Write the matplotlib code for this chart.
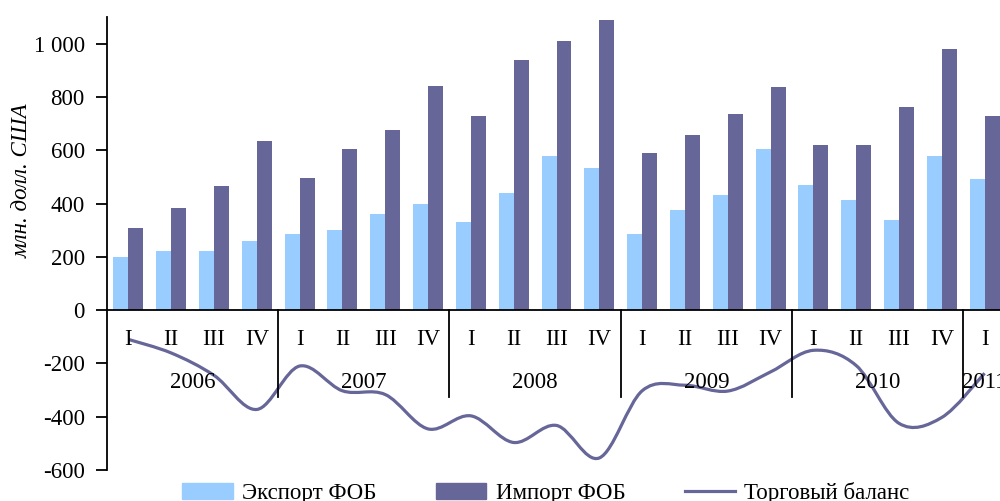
import numpy as np
import matplotlib
matplotlib.use("Agg")
import matplotlib.pyplot as plt
from matplotlib.path import Path
from matplotlib.patches import PathPatch, Patch
from matplotlib.lines import Line2D

plt.rcParams['font.family'] = ['Liberation Serif', 'DejaVu Serif']

# data (млн. долл. США)
quarters = ['I', 'II', 'III', 'IV'] * 5 + ['I']
years = ['2006', '2007', '2008', '2009', '2010', '2011']
export_fob = [200, 222, 222, 260,
              287, 302, 360, 397,
              330, 440, 577, 533,
              287, 375, 433, 606,
              469, 412, 339, 577,
              491]
import_fob = [310, 383, 467, 633,
              497, 605, 677, 843,
              727, 937, 1010, 1088,
              590, 657, 737, 838,
              620, 620, 764, 980,
              728]
trade_balance = [-110, -161, -245, -373,
                 -210, -303, -317, -446,
                 -397, -497, -433, -555,
                 -303, -282, -304, -232,
                 -151, -208, -425, -403,
                 -237]
yticks = [-600, -400, -200, 0, 200, 400, 600, 800, 1000]
ytick_labels = ['-600', '-400', '-200', '0', '200', '400', '600', '800', '1 000']

c_exp = '#99ccff'
c_imp = '#666699'

fig = plt.figure(figsize=(10, 5.01), dpi=100)
ax = fig.add_axes([0.107, 0.062, 0.899, 0.904])

x = np.arange(len(quarters))
w = 0.35
ax.bar(x - w / 2, export_fob, w, color=c_exp, zorder=2)
ax.bar(x + w / 2, import_fob, w, color=c_imp, zorder=2)

# smoothed line (catmull-rom -> bezier, like excel)
pts = np.column_stack([x, trade_balance]).astype(float)
verts = [pts[0]]
codes = [Path.MOVETO]
n = len(pts)
for i in range(n - 1):
    p0 = pts[i - 1] if i > 0 else pts[i]
    p1 = pts[i]
    p2 = pts[i + 1]
    p3 = pts[i + 2] if i + 2 < n else pts[i + 1]
    c1 = p1 + (p2 - p0) / 6
    c2 = p2 - (p3 - p1) / 6
    verts += [c1, c2, p2]
    codes += [Path.CURVE4] * 3
ax.add_patch(PathPatch(Path(verts, codes), fill=False, edgecolor=c_imp, lw=2.3, zorder=3))

ax.set_xlim(-0.5, len(quarters) - 0.5)
ax.set_ylim(-600, 1100)
ax.axhline(0, color='black', lw=1.3, zorder=4)

for s in ['top', 'right', 'bottom']:
    ax.spines[s].set_visible(False)
ax.spines['left'].set_linewidth(1.3)
ax.set_xticks([])
ax.set_yticks(yticks)
ax.set_yticklabels(ytick_labels, fontsize=16.5)
ax.tick_params(axis='y', length=8, width=1.3, pad=8)

# category labels under zero line
for i, q in enumerate(quarters):
    ax.text(i, -112, q, ha='center', va='center', fontsize=16.5, zorder=5)
for k, yr in enumerate(years):
    start = k * 4 - 0.5
    end = min(start + 4, len(quarters) - 0.5)
    ax.text((start + end) / 2, -272, yr, ha='center', va='center', fontsize=16.5, zorder=5)
    if k > 0:
        ax.plot([start, start], [0, -325], color='black', lw=1.3, zorder=4)

fig.text(0.022, 1 - 181 / 501, 'млн. долл. США', rotation=90, style='italic',
         fontsize=16.5, ha='center', va='center')

handles = [Patch(color=c_exp), Patch(color=c_imp), Line2D([], [], color=c_imp, lw=2.3)]
fig.legend(handles, ['Экспорт ФОБ', 'Импорт ФОБ', 'Торговый баланс'],
           loc='center', bbox_to_anchor=(0.546, 0.016), ncol=3, frameon=False,
           fontsize=16.5, handlelength=2.2, handletextpad=0.4, columnspacing=2.6)

fig.savefig('out.png', dpi=100)
